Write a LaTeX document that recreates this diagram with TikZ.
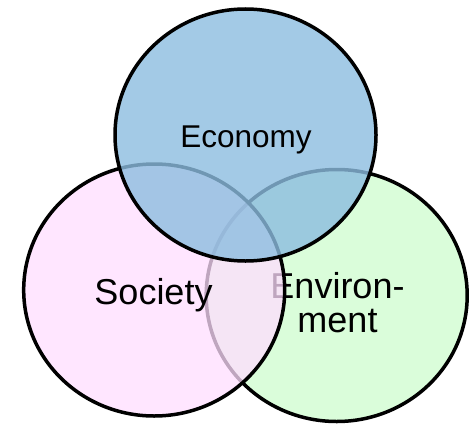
\documentclass[tikz,border=0pt]{standalone}
\usepackage{fontspec}
\setmainfont{Liberation Sans}
\usetikzlibrary{shapes.geometric}
\definecolor{envgreen}{RGB}{218,253,218}
\definecolor{socpink}{RGB}{255,222,255}
\definecolor{ecoblue}{RGB}{140,189,224}
\tikzset{
  setcircle/.style={ellipse, draw=black, line width=3.5pt, inner sep=0pt,
    minimum width=261pt, minimum height=252pt},
  lbl/.style={anchor=base, inner sep=0pt, text=black}
}
\begin{document}
\begin{tikzpicture}[x=1pt,y=1pt]
\useasboundingbox (0,0) rectangle (473,424);
\node[setcircle, fill=envgreen] (env) at (336.7,128.5) {};
\node[lbl, font=\fontsize{36}{36}\selectfont] (envt1) at (337.5,126) {Environ-};
\node[lbl, font=\fontsize{36}{36}\selectfont] (envt2) at (337.5,92) {ment};
\node[setcircle, fill=socpink, fill opacity=0.75] (soc) at (154.2,134) {};
\node[lbl, font=\fontsize{36}{36}\selectfont] (soct) at (153.5,120) {Society};
\node[setcircle, fill=ecoblue, fill opacity=0.8] (eco) at (245.5,289) {};
\node[lbl, font=\fontsize{31.5}{31.5}\selectfont] (ecot) at (246,277) {Economy};
\end{tikzpicture}
\end{document}
